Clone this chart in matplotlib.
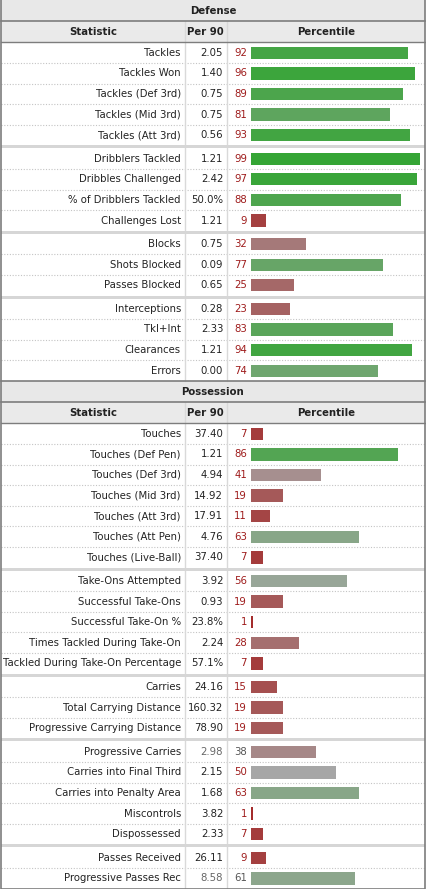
import matplotlib.pyplot as plt
from matplotlib.patches import Rectangle
from matplotlib.colors import LinearSegmentedColormap

# ---- data ----
defense_labels = ["Tackles", "Tackles Won", "Tackles (Def 3rd)", "Tackles (Mid 3rd)", "Tackles (Att 3rd)",
                  "Dribblers Tackled", "Dribbles Challenged", "% of Dribblers Tackled", "Challenges Lost",
                  "Blocks", "Shots Blocked", "Passes Blocked",
                  "Interceptions", "Tkl+Int", "Clearances", "Errors"]
defense_per90 = ["2.05", "1.40", "0.75", "0.75", "0.56",
                 "1.21", "2.42", "50.0%", "1.21",
                 "0.75", "0.09", "0.65",
                 "0.28", "2.33", "1.21", "0.00"]
defense_pct = [92, 96, 89, 81, 93,
               99, 97, 88, 9,
               32, 77, 25,
               23, 83, 94, 74]
defense_groups = [5, 4, 3, 4]

possession_labels = ["Touches", "Touches (Def Pen)", "Touches (Def 3rd)", "Touches (Mid 3rd)",
                     "Touches (Att 3rd)", "Touches (Att Pen)", "Touches (Live-Ball)",
                     "Take-Ons Attempted", "Successful Take-Ons", "Successful Take-On %",
                     "Times Tackled During Take-On", "Tackled During Take-On Percentage",
                     "Carries", "Total Carrying Distance", "Progressive Carrying Distance",
                     "Progressive Carries", "Carries into Final Third", "Carries into Penalty Area",
                     "Miscontrols", "Dispossessed",
                     "Passes Received", "Progressive Passes Rec"]
possession_per90 = ["37.40", "1.21", "4.94", "14.92", "17.91", "4.76", "37.40",
                    "3.92", "0.93", "23.8%", "2.24", "57.1%",
                    "24.16", "160.32", "78.90",
                    "2.98", "2.15", "1.68", "3.82", "2.33",
                    "26.11", "8.58"]
possession_pct = [7, 86, 41, 19, 11, 63, 7,
                  56, 19, 1, 28, 7,
                  15, 19, 19,
                  38, 50, 63, 1, 7,
                  9, 61]
possession_groups = [7, 5, 3, 5, 2]
muted_rows = ["Progressive Carries", "Progressive Passes Rec"]

sections = [
    ("Defense", defense_labels, defense_per90, defense_pct, defense_groups),
    ("Possession", possession_labels, possession_per90, possession_pct, possession_groups),
]

# ---- layout (pixels) ----
W, H = 427, 889
x_left, x_right = 1.3, 424.7
x_col1, x_col2 = 185, 226.7
bar_x0, px_per_pct = 251, 1.71
band_h, row_h, sep_h = 21.2, 20.6, 3.0

cmap = LinearSegmentedColormap.from_list(
    "pct", [(0.0, "#a42a2a"), (0.5, "#a6a6a6"), (1.0, "#33a533")])

fig = plt.figure(figsize=(W / 100, H / 100), dpi=100)
ax = fig.add_axes([0, 0, 1, 1])
ax.set_xlim(0, W)
ax.set_ylim(H, 0)
ax.axis("off")

fs = 7.3
txt = "#222222"
red_txt = "#9e1b1b"
dark_line = "#7d7d7d"

y = 0.0
for name, labels, per90, pct, groups in sections:
    # section title band
    ax.add_patch(Rectangle((x_left, y), x_right - x_left, band_h, fc="#e8e8e8", ec="none", zorder=1))
    ax.text((x_left + x_right) / 2, y + band_h / 2, name, ha="center", va="center",
            fontsize=fs, fontweight="bold", color=txt, zorder=5)
    if y > 0:
        ax.plot([x_left, x_right], [y, y], color=dark_line, lw=1.2, zorder=6)
    y += band_h
    ax.plot([x_left, x_right], [y, y], color=dark_line, lw=1.2, zorder=6)

    # column header
    hdr_top = y
    ax.add_patch(Rectangle((x_left, y), x_right - x_left, band_h, fc="#eaeaea", ec="none", zorder=1))
    for cx, t in [((x_left + x_col1) / 2, "Statistic"), ((x_col1 + x_col2) / 2, "Per 90"),
                  ((x_col2 + x_right) / 2, "Percentile")]:
        ax.text(cx, y + band_h / 2, t, ha="center", va="center", fontsize=fs,
                fontweight="bold", color=txt, zorder=5)
    y += band_h
    ax.plot([x_left, x_right], [y, y], color=dark_line, lw=1.0, zorder=6)

    # body rows
    i = 0
    for gi, n in enumerate(groups):
        if gi > 0:
            ax.add_patch(Rectangle((x_left, y), x_right - x_left, sep_h, fc="#d6d6d6",
                                   ec="none", zorder=4))
            y += sep_h
        for k in range(n):
            yc = y + row_h / 2
            muted = labels[i] in muted_rows
            ax.text(x_col1 - 4, yc, labels[i], ha="right", va="center", fontsize=fs, color=txt, zorder=5)
            ax.text(x_col2 - 3.5, yc, per90[i], ha="right", va="center", fontsize=fs,
                    color="#666666" if muted else txt, zorder=5)
            ax.text(bar_x0 - 4, yc, str(pct[i]), ha="right", va="center", fontsize=fs,
                    color="#555555" if muted else red_txt, zorder=5)
            ax.barh(yc, pct[i] * px_per_pct, left=bar_x0, height=12.4,
                    color=cmap(pct[i] / 100), zorder=3)
            if k < n - 1:
                ax.plot([x_left, x_right], [y + row_h, y + row_h], color="#c4c4c4",
                        lw=0.8, ls=(0, (1, 1.5)), zorder=2)
            y += row_h
            i += 1

    # column dividers
    for xv in (x_col1, x_col2):
        ax.plot([xv, xv], [hdr_top, y], color="#d9d9d9", lw=1.0, zorder=2)

# outer border
ax.plot([x_left, x_left, x_right, x_right], [0, y, y, 0], color=dark_line, lw=1.2, zorder=7)

fig.savefig("out.png", dpi=100)
